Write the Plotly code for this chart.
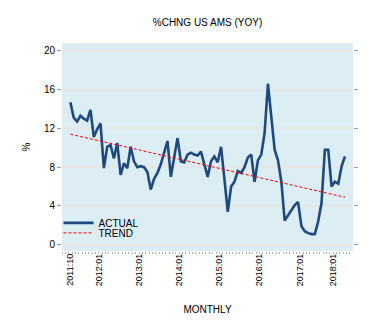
import plotly.graph_objects as go

# Monthly year-on-year % change, Oct 2011 .. Aug 2018
actual = [
    14.7, 13.1, 12.7, 13.3, 13.0, 12.8, 13.9, 11.1, 11.9, 12.5,
    7.9, 10.1, 10.3, 8.9, 10.5, 7.2, 8.4, 7.9, 10.1, 8.6,
    8.0, 8.1, 8.0, 7.5, 5.7, 6.8, 7.4, 8.3, 9.5, 10.7,
    7.0, 9.0, 11.0, 8.6, 8.5, 9.3, 9.5, 9.3, 9.2, 9.6,
    8.3, 7.0, 8.6, 9.1, 8.5, 10.1, 6.8, 3.4, 6.0, 6.5,
    7.6, 7.4, 8.0, 9.0, 9.3, 6.5, 8.7, 9.3, 11.5, 16.6,
    13.2, 9.8, 8.7, 6.5, 2.5, 3.0, 3.5, 4.1, 4.4, 1.9,
    1.4, 1.2, 1.1, 1.1, 2.4, 4.3, 9.8, 9.8, 6.0, 6.5,
    6.3, 8.1, 9.1,
]
# linear trend line: value at the first and at the last observation
trend = [11.4, 4.9]

start_year, start_month = 2011, 10
year_labels = ["2011:10", "2012:01", "2013:01", "2014:01",
               "2015:01", "2016:01", "2017:01", "2018:01"]
y_ticks = [0, 4, 8, 12, 16, 20]

n = len(actual)
idx = list(range(n))
periods = [(start_year + (start_month - 1 + i) // 12, (start_month - 1 + i) % 12 + 1) for i in idx]

# year boundaries sit between December and January
year_bounds = [i - 0.5 for i in idx if periods[i][1] == 1]

# one label per year, centred on that year's observations
label_pos = []
for yr in sorted({p[0] for p in periods}):
    members = [i for i in idx if periods[i][0] == yr]
    label_pos.append(0 if yr == start_year else (members[0] + members[-1]) / 2)

FONT = "Liberation Sans Narrow, Arial Narrow, Liberation Sans, Arial, sans-serif"
BLUE = "#1f4a80"

fig = go.Figure()
fig.add_trace(go.Scatter(
    x=idx, y=actual, mode="lines", name="ACTUAL",
    line=dict(color=BLUE, width=2.6), legend="legend",
))
fig.add_trace(go.Scatter(
    x=[idx[0], idx[-1]], y=trend, mode="lines", name="TREND",
    line=dict(color="#ff0000", width=1, dash="3px,2px"), legend="legend2",
))
# empty trace that carries the tick-mark axis
fig.add_trace(go.Scatter(x=[], y=[], xaxis="x2", showlegend=False, hoverinfo="skip"))

xr = [-2.5, 84.4]
fig.update_layout(
    width=376, height=332,
    margin=dict(l=62, r=23, t=43, b=81, pad=0),
    paper_bgcolor="white",
    plot_bgcolor="#dcedf4",
    font=dict(family=FONT, size=10, color="black"),
    title=dict(text="%CHNG US AMS (YOY)", x=0.5, xref="paper", xanchor="center",
               y=1 - 22 / 332, yref="container", yanchor="middle",
               font=dict(family=FONT, size=10, color="black")),
    xaxis=dict(
        range=xr, tickmode="array", tickvals=label_pos, ticktext=year_labels,
        ticks="", tickangle=-90, showgrid=False, zeroline=False, showline=False,
        tickfont=dict(family=FONT, size=9, color="black"),
        title=dict(text="MONTHLY", standoff=20, font=dict(family=FONT, size=10)),
    ),
    xaxis2=dict(
        range=xr, overlaying="x", side="bottom", anchor="y",
        tickmode="array", tickvals=year_bounds, ticktext=[""] * len(year_bounds),
        ticks="outside", ticklen=4, tickwidth=1, tickcolor="#9a9a9a",
        showgrid=False, zeroline=False, showline=False, showticklabels=False,
        minor=dict(tick0=-0.5, dtick=1, ticks="outside", ticklen=2,
                   tickwidth=1, tickcolor="#b0b0b0", showgrid=False),
    ),
    yaxis=dict(
        range=[-0.64, 20.8], tickmode="array", tickvals=y_ticks,
        ticks="outside", ticklen=4, tickwidth=1, tickcolor="#9a9a9a",
        mirror="ticks", showline=False,
        showgrid=True, gridcolor="#e6e6e6", gridwidth=1.5, zeroline=False,
        tickfont=dict(family=FONT, size=10, color="black"),
        title=dict(text="%", standoff=11, font=dict(family=FONT, size=10)),
    ),
    legend=dict(x=-0.012, xanchor="left", y=0.135, yanchor="middle",
                bgcolor="rgba(0,0,0,0)", borderwidth=0,
                font=dict(family=FONT, size=10, color="black")),
    legend2=dict(x=-0.012, xanchor="left", y=0.087, yanchor="middle",
                 bgcolor="rgba(0,0,0,0)", borderwidth=0,
                 font=dict(family=FONT, size=10, color="black")),
    showlegend=True,
)

fig.write_html("out.html")
